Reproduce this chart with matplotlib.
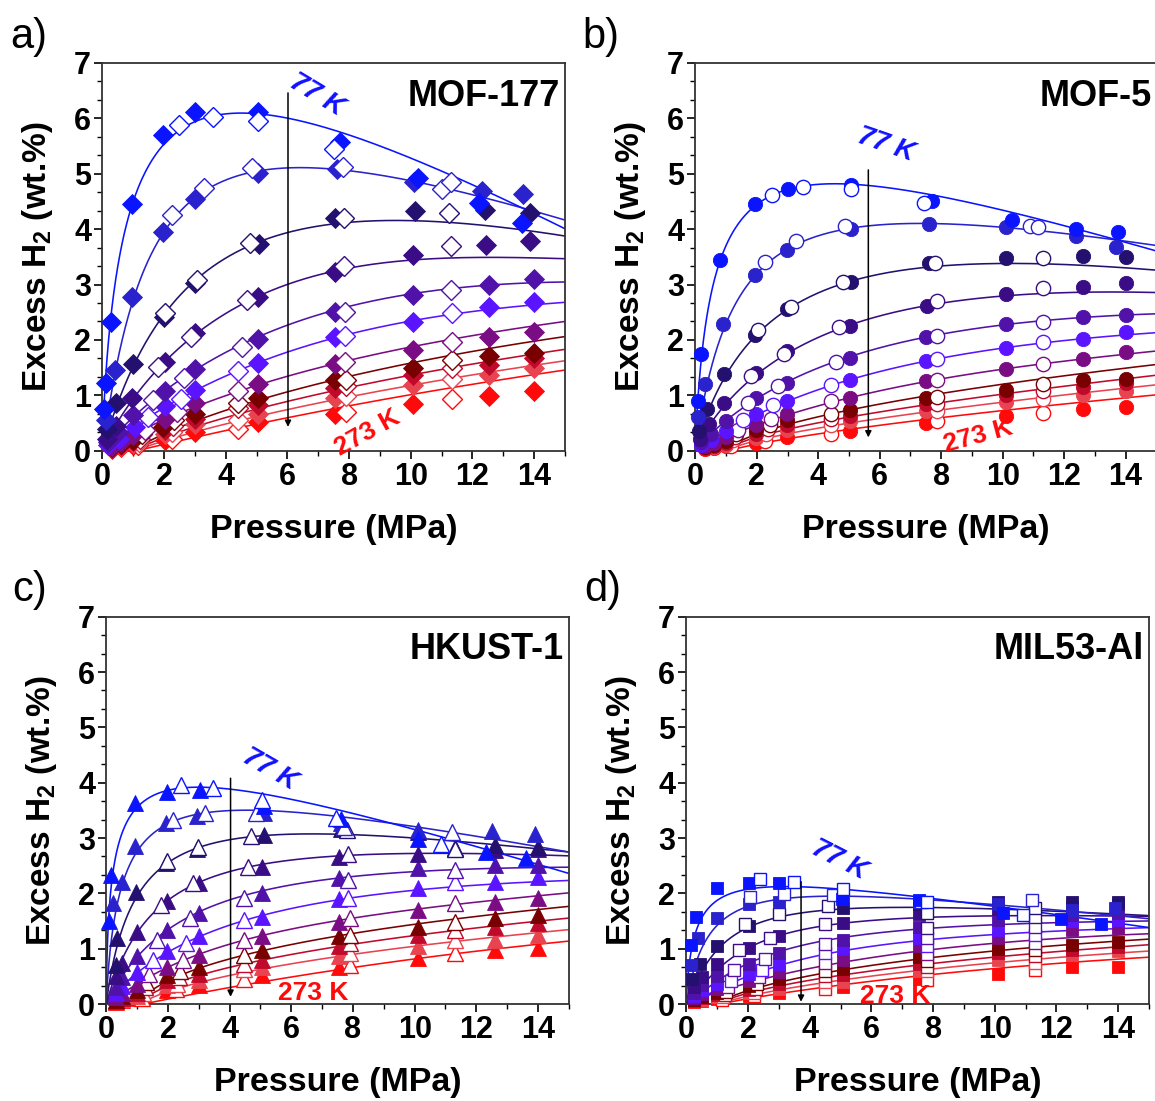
import numpy as np
import matplotlib
matplotlib.use("Agg")
import matplotlib.pyplot as plt
from matplotlib.ticker import MultipleLocator

plt.rcParams['font.family'] = ['Liberation Sans', 'DejaVu Sans']
plt.rcParams['font.weight'] = 'bold'
plt.rcParams['mathtext.fontset'] = 'custom'
plt.rcParams['mathtext.rm'] = 'Liberation Sans:bold'
plt.rcParams['mathtext.bf'] = 'Liberation Sans:bold'
plt.rcParams['mathtext.default'] = 'rm'

nan = np.nan

# isotherm colours, 77 K (index 0) to 273 K (index 10)
COLORS = ['#0a14ff', '#2a22cc', '#24106e', '#3a0c86', '#5012a8', '#5a14ff',
          '#7a0c84', '#780000', '#c00a2c', '#e84450', '#ff0a0a']

# pressures at which the fitted curves are tabulated (MPa)
FIT_P = [0.25, 0.5, 1, 2, 3, 5, 7.5, 10, 12.5, 15]

# ---------------- MOF-177 ----------------
A_FIT = [
    [2.3, 3.3, 4.4, 5.62, 5.98, 6.1, 5.78, 5.2, 4.65, 4.07],
    [nan, 1.6, 2.77, 3.95, 4.55, 5.02, 5.1, 4.9, 4.55, 4.15],
    [nan, 0.85, 1.55, 2.45, 3.05, 3.75, 4.12, 4.15, 4.05, 3.88],
    [nan, 0.5, 0.95, 1.6, 2.1, 2.75, 3.25, 3.45, 3.48, 3.47],
    [nan, nan, 0.62, 1.07, 1.45, 2.03, 2.55, 2.83, 2.98, 3.05],
    [nan, nan, 0.42, 0.78, 1.08, 1.57, 2.05, 2.33, 2.55, 2.68],
    [nan, nan, nan, 0.55, 0.8, 1.18, 1.55, 1.88, 2.13, 2.33],
    [nan, nan, nan, 0.3, 0.55, 0.88, 1.27, 1.6, 1.85, 2.05],
    [nan, nan, nan, 0.24, 0.45, 0.72, 1.08, 1.38, 1.62, 1.82],
    [nan, nan, nan, 0.18, 0.35, 0.6, 0.92, 1.18, 1.42, 1.62],
    [nan, nan, nan, 0.12, 0.25, 0.46, 0.76, 1.02, 1.25, 1.45],
]
A_ONSET = [0, 0, 0, 0, 0, 0, 0, 1.05, 1.08, 1.1, 1.12]
A_ADS_P = [
    [0.05, 0.12, 0.27, 0.95, 1.98, 3.0, 5.05, 7.7, 10.25, 12.2, 13.6],
    [0.12, 0.4, 0.97, 1.98, 3.0, 5.05, 7.6, 10.1, 12.3, 13.65],
    [0.15, 0.46, 1.0, 2.0, 3.0, 5.08, 7.55, 10.14, 12.4, 13.86],
    [0.15, 0.46, 0.97, 2.03, 3.0, 5.05, 7.55, 10.08, 12.43, 13.88],
    [0.2, 0.5, 1.0, 2.03, 3.0, 5.05, 7.55, 10.08, 12.53, 13.98],
    [0.2, 0.55, 1.06, 2.03, 3.0, 5.05, 7.55, 10.08, 12.55, 14.0],
    [0.3, 0.6, 1.0, 2.03, 3.0, 5.05, 7.55, 10.08, 12.55, 14.0],
    [0.3, 0.6, 1.0, 1.98, 3.0, 5.05, 7.55, 10.08, 12.55, 14.0],
    [0.3, 0.6, 1.0, 2.03, 3.0, 5.05, 7.55, 10.08, 12.55, 14.0],
    [0.3, 0.6, 1.0, 2.03, 3.0, 5.05, 7.55, 10.08, 12.55, 14.0],
    [0.3, 0.6, 1.0, 2.03, 3.0, 5.05, 7.55, 10.08, 12.55, 14.0],
]
A_ADS_N = [
    [0.75, 1.22, 2.33, 4.45, 5.7, 6.12, 6.12, 5.58, 4.92, 4.47, 4.12],
    [0.55, 1.46, 2.77, 3.94, 4.55, 5.02, 5.08, 4.86, 4.68, 4.64],
    [0.4, 0.87, 1.56, 2.42, 3.03, 3.73, 4.2, 4.32, 4.34, 4.29],
    [0.22, 0.45, 0.96, 1.6, 2.12, 2.77, 3.23, 3.54, 3.72, 3.78],
    [0.15, 0.33, 0.64, 1.08, 1.47, 2.02, 2.51, 2.81, 2.99, 3.1],
    [0.1, 0.22, 0.43, 0.8, 1.1, 1.58, 2.06, 2.33, 2.6, 2.69],
    [0.08, 0.15, 0.28, 0.58, 0.87, 1.2, 1.57, 1.82, 2.05, 2.15],
    [0.06, 0.12, 0.2, 0.43, 0.67, 0.96, 1.27, 1.49, 1.71, 1.77],
    [0.05, 0.1, 0.17, 0.37, 0.58, 0.83, 1.13, 1.37, 1.55, 1.67],
    [0.04, 0.08, 0.14, 0.3, 0.49, 0.67, 0.96, 1.19, 1.37, 1.49],
    [0.03, 0.06, 0.1, 0.2, 0.34, 0.51, 0.67, 0.84, 0.99, 1.07],
]
A_DES_P = [
    [2.5, 3.6, 5.05, 7.5],
    [2.27, 3.3, 4.85, 7.8, 11.0, 11.3],
    [2.03, 3.06, 4.79, 7.85, 11.25],
    [1.82, 2.88, 4.68, 7.83, 11.29],
    [1.65, 2.66, 4.52, 7.86, 11.29],
    [1.49, 2.55, 4.41, 7.86, 11.35],
    [1.38, 2.41, 4.41, 7.86, 11.33],
    [1.28, 2.34, 4.41, 7.9, 11.33],
    [1.22, 2.3, 4.41, 7.9, 11.33],
    [1.2, 2.25, 4.41, 7.9, 11.33],
    [1.17, 2.25, 4.41, 7.9, 11.35],
]
A_DES_N = [
    [5.88, 6.03, 5.95, 5.45],
    [4.26, 4.75, 5.1, 5.12, 4.72, 4.85],
    [2.48, 3.08, 3.75, 4.2, 4.3],
    [1.52, 2.06, 2.72, 3.34, 3.69],
    [0.92, 1.31, 1.88, 2.51, 2.9],
    [0.61, 0.93, 1.43, 2.07, 2.48],
    [0.37, 0.7, 1.07, 1.61, 1.97],
    [0.31, 0.55, 0.86, 1.27, 1.63],
    [0.22, 0.45, 0.77, 1.16, 1.49],
    [0.16, 0.34, 0.55, 0.99, 1.29],
    [0.1, 0.22, 0.4, 0.7, 0.93],
]

# ---------------- MOF-5 ----------------
B_FIT = [
    [1.9, 2.85, 3.68, 4.42, 4.72, 4.83, 4.68, 4.3, 3.98, 3.62],
    [0.9, 1.4, 2.3, 3.2, 3.65, 4.02, 4.1, 4.02, 3.88, 3.72],
    [nan, 0.8, 1.4, 2.07, 2.55, 3.05, 3.33, 3.38, 3.33, 3.27],
    [nan, 0.48, 0.85, 1.38, 1.77, 2.25, 2.62, 2.8, 2.85, 2.86],
    [nan, nan, 0.54, 0.95, 1.25, 1.68, 2.05, 2.28, 2.4, 2.47],
    [nan, nan, 0.35, 0.65, 0.9, 1.27, 1.62, 1.85, 2.02, 2.13],
    [nan, nan, nan, 0.46, 0.65, 0.95, 1.25, 1.47, 1.65, 1.8],
    [nan, nan, nan, 0.3, 0.48, 0.73, 0.98, 1.2, 1.4, 1.55],
    [nan, nan, nan, 0.24, 0.4, 0.6, 0.82, 1.03, 1.2, 1.36],
    [nan, nan, nan, 0.18, 0.32, 0.48, 0.7, 0.88, 1.05, 1.18],
    [nan, nan, nan, 0.12, 0.23, 0.37, 0.55, 0.74, 0.88, 1.0],
]
B_ONSET = [0, 0, 0, 0, 0, 0, 0, 1.05, 1.08, 1.1, 1.12]
B_ADS_P = [
    [0.09, 0.17, 0.79, 1.93, 3.0, 5.05, 7.7, 10.3, 12.4, 13.75],
    [0.1, 0.3, 0.9, 1.93, 2.98, 5.05, 7.6, 10.1, 12.4, 13.7],
    [0.12, 0.39, 0.95, 1.93, 2.98, 5.05, 7.6, 10.1, 12.6, 14.0],
    [0.15, 0.43, 0.95, 1.98, 2.98, 5.02, 7.55, 10.1, 12.6, 14.0],
    [0.2, 0.5, 1.0, 1.98, 2.98, 5.02, 7.5, 10.1, 12.6, 14.0],
    [0.2, 0.5, 1.0, 1.98, 2.98, 5.02, 7.5, 10.1, 12.6, 14.0],
    [0.3, 0.6, 1.0, 1.98, 2.98, 5.02, 7.5, 10.1, 12.6, 14.0],
    [0.3, 0.6, 1.0, 1.98, 2.98, 5.02, 7.5, 10.1, 12.6, 14.0],
    [0.3, 0.6, 1.0, 1.98, 2.98, 5.02, 7.5, 10.1, 12.6, 14.0],
    [0.3, 0.6, 1.0, 1.98, 2.98, 5.02, 7.5, 10.1, 12.6, 14.0],
    [0.3, 0.6, 1.0, 1.98, 2.98, 5.02, 7.5, 10.1, 12.6, 14.0],
]
B_ADS_N = [
    [0.9, 1.75, 3.45, 4.45, 4.73, 4.8, 4.5, 4.17, 4.0, 3.94],
    [0.6, 1.2, 2.29, 3.18, 3.63, 4.01, 4.1, 4.03, 3.88, 3.67],
    [0.35, 0.75, 1.39, 2.08, 2.56, 3.05, 3.38, 3.48, 3.52, 3.5],
    [0.22, 0.48, 0.87, 1.4, 1.8, 2.26, 2.62, 2.83, 2.95, 3.02],
    [0.15, 0.3, 0.54, 0.96, 1.23, 1.67, 2.05, 2.28, 2.42, 2.45],
    [0.1, 0.2, 0.36, 0.66, 0.9, 1.28, 1.62, 1.85, 2.02, 2.15],
    [0.08, 0.14, 0.24, 0.47, 0.66, 0.96, 1.25, 1.47, 1.65, 1.78],
    [0.06, 0.11, 0.18, 0.37, 0.55, 0.73, 0.95, 1.1, 1.27, 1.3],
    [0.05, 0.09, 0.14, 0.3, 0.47, 0.63, 0.85, 1.0, 1.15, 1.22],
    [0.04, 0.07, 0.11, 0.23, 0.37, 0.53, 0.72, 0.88, 1.0, 1.08],
    [0.03, 0.05, 0.08, 0.13, 0.24, 0.36, 0.5, 0.62, 0.75, 0.78],
]
B_DES_P = [
    [2.5, 3.5, 5.05, 7.45],
    [2.28, 3.29, 4.86, 10.9, 11.15],
    [2.04, 3.1, 4.8, 7.8, 11.3],
    [1.82, 2.9, 4.66, 7.85, 11.3],
    [1.71, 2.69, 4.59, 7.85, 11.3],
    [1.55, 2.53, 4.43, 7.85, 11.3],
    [1.39, 2.47, 4.43, 7.85, 11.3],
    [1.33, 2.42, 4.43, 7.85, 11.3],
    [1.28, 2.36, 4.43, 7.85, 11.3],
    [1.23, 2.31, 4.43, 7.85, 11.3],
    [1.17, 2.26, 4.43, 7.85, 11.3],
]
B_DES_N = [
    [4.62, 4.77, 4.73, 4.48],
    [3.4, 3.78, 4.05, 4.05, 4.03],
    [2.18, 2.6, 3.05, 3.38, 3.48],
    [1.34, 1.75, 2.24, 2.7, 2.93],
    [0.86, 1.17, 1.6, 2.07, 2.33],
    [0.55, 0.83, 1.19, 1.65, 1.97],
    [0.37, 0.57, 0.9, 1.28, 1.57],
    [0.3, 0.47, 0.66, 0.97, 1.2],
    [0.25, 0.39, 0.57, 0.85, 1.07],
    [0.19, 0.3, 0.47, 0.72, 0.93],
    [0.09, 0.17, 0.3, 0.53, 0.68],
]

# ---------------- HKUST-1 ----------------
C_FIT = [
    [2.5, 3.1, 3.52, 3.85, 3.92, 3.85, 3.52, 3.12, 2.75, 2.38],
    [1.5, 2.1, 2.78, 3.27, 3.42, 3.5, 3.42, 3.18, 2.95, 2.78],
    [nan, 1.3, 2.0, 2.55, 2.8, 3.02, 3.08, 3.03, 2.9, 2.72],
    [nan, 0.78, 1.3, 1.88, 2.2, 2.5, 2.68, 2.73, 2.72, 2.67],
    [nan, nan, 0.85, 1.35, 1.67, 2.02, 2.28, 2.4, 2.45, 2.47],
    [nan, nan, 0.55, 0.95, 1.22, 1.58, 1.88, 2.06, 2.17, 2.23],
    [nan, nan, 0.35, 0.68, 0.9, 1.22, 1.5, 1.72, 1.88, 2.0],
    [nan, nan, nan, 0.42, 0.65, 0.95, 1.22, 1.45, 1.62, 1.76],
    [nan, nan, nan, 0.32, 0.52, 0.78, 1.03, 1.25, 1.42, 1.54],
    [nan, nan, nan, 0.22, 0.4, 0.62, 0.85, 1.05, 1.21, 1.34],
    [nan, nan, nan, 0.1, 0.2, 0.37, 0.62, 0.83, 0.99, 1.13],
]
C_ONSET = [0, 0, 0, 0, 0, 0, 0, 1.1, 1.12, 1.15, 1.2]
C_ADS_P = [
    [0.1, 0.16, 0.92, 1.98, 3.03, 5.1, 7.6, 10.1, 12.3, 13.6],
    [0.22, 0.5, 0.92, 1.95, 2.95, 5.1, 7.6, 10.1, 12.5, 13.9],
    [0.3, 0.36, 0.97, 1.95, 2.95, 5.1, 7.6, 10.1, 12.6, 14.0],
    [0.3, 0.5, 1.0, 1.98, 3.0, 5.05, 7.55, 10.1, 12.6, 14.0],
    [0.3, 0.5, 1.0, 1.98, 3.0, 5.05, 7.55, 10.1, 12.6, 14.0],
    [0.3, 0.5, 1.0, 1.98, 3.0, 5.05, 7.55, 10.1, 12.6, 14.0],
    [0.3, 0.5, 1.0, 1.98, 3.0, 5.05, 7.55, 10.1, 12.6, 14.0],
    [0.3, 0.5, 1.0, 1.98, 3.0, 5.05, 7.55, 10.1, 12.6, 14.0],
    [0.3, 0.5, 1.0, 1.98, 3.0, 5.05, 7.55, 10.1, 12.6, 14.0],
    [0.3, 0.5, 1.0, 1.98, 3.0, 5.05, 7.55, 10.1, 12.6, 14.0],
    [0.3, 0.5, 1.0, 1.98, 3.0, 5.05, 7.55, 10.1, 12.6, 14.0],
]
C_ADS_N = [
    [1.5, 2.33, 3.64, 3.84, 3.86, 3.57, 3.35, 2.99, 2.75, 2.63],
    [1.82, 2.2, 2.86, 3.28, 3.4, 3.45, 3.28, 3.14, 3.12, 3.08],
    [0.7, 1.19, 2.03, 2.55, 2.8, 3.05, 3.17, 3.1, 2.88, 2.84],
    [0.5, 0.75, 1.31, 1.87, 2.18, 2.48, 2.66, 2.72, 2.78, 2.8],
    [0.3, 0.48, 0.86, 1.34, 1.64, 2.0, 2.27, 2.45, 2.51, 2.51],
    [0.2, 0.32, 0.58, 0.95, 1.22, 1.58, 1.89, 2.09, 2.21, 2.3],
    [0.12, 0.2, 0.37, 0.67, 0.89, 1.22, 1.49, 1.7, 1.85, 1.91],
    [0.08, 0.14, 0.25, 0.52, 0.67, 0.98, 1.22, 1.4, 1.55, 1.61],
    [0.06, 0.11, 0.2, 0.43, 0.55, 0.8, 1.04, 1.25, 1.4, 1.46],
    [0.05, 0.09, 0.15, 0.34, 0.43, 0.67, 0.86, 1.04, 1.16, 1.25],
    [0.04, 0.07, 0.1, 0.25, 0.34, 0.52, 0.67, 0.83, 0.98, 1.01],
]
C_DES_P = [
    [2.43, 3.46, 5.04, 7.45, 10.85],
    [2.16, 3.19, 4.85, 7.7, 11.2],
    [1.97, 2.99, 4.7, 7.8, 11.3],
    [1.76, 2.81, 4.6, 7.85, 11.3],
    [1.65, 2.7, 4.45, 7.85, 11.3],
    [1.5, 2.6, 4.45, 7.85, 11.3],
    [1.4, 2.5, 4.45, 7.9, 11.3],
    [1.3, 2.4, 4.45, 7.9, 11.3],
    [1.25, 2.35, 4.45, 7.9, 11.3],
    [1.2, 2.3, 4.45, 7.9, 11.3],
    [1.15, 2.25, 4.45, 7.9, 11.3],
]
C_DES_N = [
    [3.96, 3.9, 3.69, 3.37, 2.9],
    [3.33, 3.45, 3.45, 3.2, 3.11],
    [2.58, 2.84, 3.03, 3.15, 2.81],
    [1.79, 2.18, 2.48, 2.72, 2.82],
    [1.15, 1.55, 1.91, 2.24, 2.42],
    [0.8, 1.1, 1.52, 1.91, 2.21],
    [0.55, 0.8, 1.16, 1.55, 1.82],
    [0.4, 0.6, 0.89, 1.25, 1.49],
    [0.3, 0.48, 0.73, 1.1, 1.34],
    [0.2, 0.37, 0.63, 0.92, 1.16],
    [0.1, 0.27, 0.46, 0.7, 0.92],
]

# ---------------- MIL53-Al ----------------
D_FIT = [
    [1.2, 1.55, 1.87, 2.08, 2.13, 2.07, 1.93, 1.77, 1.58, 1.38],
    [0.65, 1.0, 1.4, 1.78, 1.9, 1.95, 1.9, 1.78, 1.67, 1.55],
    [nan, 0.6, 0.95, 1.4, 1.58, 1.7, 1.75, 1.72, 1.66, 1.6],
    [nan, nan, 0.62, 1.0, 1.25, 1.45, 1.55, 1.6, 1.6, 1.58],
    [nan, nan, 0.42, 0.72, 0.95, 1.2, 1.35, 1.43, 1.48, 1.5],
    [nan, nan, nan, 0.5, 0.7, 0.95, 1.14, 1.26, 1.33, 1.38],
    [nan, nan, nan, 0.38, 0.52, 0.75, 0.95, 1.1, 1.2, 1.27],
    [nan, nan, nan, 0.25, 0.4, 0.6, 0.8, 0.97, 1.08, 1.17],
    [nan, nan, nan, 0.2, 0.33, 0.5, 0.7, 0.86, 0.98, 1.06],
    [nan, nan, nan, 0.14, 0.26, 0.42, 0.6, 0.75, 0.87, 0.95],
    [nan, nan, nan, 0.09, 0.2, 0.33, 0.5, 0.65, 0.76, 0.84],
]
D_ONSET = [0, 0, 0, 0, 0, 0, 0, 1.05, 1.08, 1.1, 1.12]
D_ADS_P = [
    [0.14, 0.33, 1.01, 2.02, 3.02, 5.05, 7.55, 10.27, 12.16, 13.45],
    [0.15, 0.38, 1.01, 2.02, 3.02, 5.07, 7.55, 10.1, 12.5, 13.9],
    [0.2, 0.44, 1.01, 2.02, 3.02, 5.07, 7.55, 10.1, 12.5, 14.0],
    [0.25, 0.5, 1.01, 2.02, 3.02, 5.07, 7.55, 10.1, 12.5, 14.0],
    [0.25, 0.5, 1.01, 2.02, 3.02, 5.07, 7.55, 10.1, 12.5, 14.0],
    [0.25, 0.5, 1.01, 2.02, 3.02, 5.07, 7.55, 10.1, 12.5, 14.0],
    [0.25, 0.5, 1.01, 2.02, 3.02, 5.07, 7.55, 10.1, 12.5, 14.0],
    [0.25, 0.5, 1.01, 2.02, 3.02, 5.07, 7.55, 10.1, 12.5, 14.0],
    [0.25, 0.5, 1.01, 2.02, 3.02, 5.07, 7.55, 10.1, 12.5, 14.0],
    [0.25, 0.5, 1.01, 2.02, 3.02, 5.07, 7.55, 10.1, 12.5, 14.0],
    [0.25, 0.5, 1.01, 2.02, 3.02, 5.07, 7.55, 10.1, 12.5, 14.0],
]
D_ADS_N = [
    [1.07, 1.58, 2.1, 2.19, 2.19, 1.9, 1.88, 1.65, 1.53, 1.44],
    [0.7, 1.19, 1.55, 1.81, 1.85, 1.89, 1.85, 1.8, 1.7, 1.73],
    [0.45, 0.73, 1.05, 1.41, 1.63, 1.73, 1.8, 1.85, 1.85, 1.85],
    [0.3, 0.48, 0.72, 1.02, 1.22, 1.46, 1.62, 1.72, 1.75, 1.8],
    [0.2, 0.35, 0.5, 0.72, 0.92, 1.16, 1.4, 1.52, 1.61, 1.65],
    [0.14, 0.25, 0.36, 0.55, 0.72, 1.0, 1.2, 1.34, 1.5, 1.52],
    [0.1, 0.18, 0.28, 0.42, 0.58, 0.79, 1.04, 1.19, 1.34, 1.37],
    [0.07, 0.13, 0.2, 0.32, 0.45, 0.64, 0.85, 1.0, 1.07, 1.12],
    [0.06, 0.1, 0.16, 0.26, 0.36, 0.52, 0.72, 0.92, 0.97, 1.03],
    [0.05, 0.08, 0.12, 0.2, 0.28, 0.4, 0.6, 0.79, 0.89, 0.95],
    [0.04, 0.06, 0.09, 0.14, 0.2, 0.3, 0.45, 0.55, 0.67, 0.67],
]
D_DES_P = [
    [2.4, 3.49, 5.07, 7.8, 10.9],
    [2.07, 3.16, 4.76, 7.6, 11.2],
    [1.9, 3.0, 4.6, 7.8, 11.3],
    [1.7, 2.7, 4.5, 7.8, 11.3],
    [1.55, 2.55, 4.5, 7.8, 11.3],
    [1.45, 2.45, 4.5, 7.8, 11.3],
    [1.35, 2.35, 4.5, 7.8, 11.3],
    [1.3, 2.3, 4.5, 7.8, 11.3],
    [1.25, 2.25, 4.5, 7.8, 11.3],
    [1.2, 2.2, 4.5, 7.8, 11.3],
    [1.15, 2.2, 4.5, 7.8, 11.3],
]
D_DES_N = [
    [2.26, 2.21, 2.07, 1.85, 1.6],
    [1.94, 1.99, 1.97, 1.85, 1.88],
    [1.45, 1.62, 1.78, 1.64, 1.73],
    [0.98, 1.2, 1.44, 1.37, 1.57],
    [0.62, 0.82, 1.08, 1.19, 1.4],
    [0.42, 0.62, 0.92, 1.04, 1.25],
    [0.3, 0.48, 0.75, 0.9, 1.1],
    [0.22, 0.37, 0.6, 0.77, 0.98],
    [0.16, 0.28, 0.5, 0.67, 0.86],
    [0.12, 0.2, 0.4, 0.59, 0.75],
    [0.08, 0.15, 0.28, 0.43, 0.61],
]

PANELS = [
    dict(letter='a)', name='MOF-177', fit=A_FIT, onset=A_ONSET,
         ads_p=A_ADS_P, ads_n=A_ADS_N, des_p=A_DES_P, des_n=A_DES_N,
         marker='D', ms=9.8,
         rect=(102.3, 450.7, 565.0, 63.0),
         arrow=(6.02, 6.46, 0.43), t77=(6.95, 6.42, -31), t273=(8.6, 0.33, 29)),
    dict(letter='b)', name='MOF-5', fit=B_FIT, onset=B_ONSET,
         ads_p=B_ADS_P, ads_n=B_ADS_N, des_p=B_DES_P, des_n=B_DES_N,
         marker='o', ms=10.3,
         rect=(695.3, 450.7, 1156.3, 63.0),
         arrow=(5.63, 5.07, 0.24), t77=(6.2, 5.52, -19), t273=(9.2, 0.27, 15)),
    dict(letter='c)', name='HKUST-1', fit=C_FIT, onset=C_ONSET,
         ads_p=C_ADS_P, ads_n=C_ADS_N, des_p=C_DES_P, des_n=C_DES_N,
         marker='^', ms=11.5,
         rect=(106.3, 1004.0, 568.8, 616.7),
         arrow=(4.03, 4.08, 0.13), t77=(5.3, 4.23, -30), t273=(6.7, 0.19, 0)),
    dict(letter='d)', name='MIL53-Al', fit=D_FIT, onset=D_ONSET,
         ads_p=D_ADS_P, ads_n=D_ADS_N, des_p=D_DES_P, des_n=D_DES_N,
         marker='s', ms=9.3,
         rect=(686.3, 1004.0, 1149.0, 616.7),
         arrow=(3.72, 2.21, 0.04), t77=(4.97, 2.6, -27), t273=(6.76, 0.14, 0)),
]

W, H = 1155, 1101


def fit_isotherm(p, n, p0):
    """Least-squares fit of n = A x^t/(b^t + x^t) - c x, x = P - p0."""
    p = np.asarray(p, float)
    n = np.asarray(n, float)
    m = np.isfinite(n) & (p > p0)
    x, y = p[m] - p0, n[m]
    bs = np.geomspace(0.02, 80, 600)[:, None]
    best = (np.inf, None)
    for t in np.linspace(0.6, 1.8, 25):
        f = x ** t / (bs ** t + x ** t)
        s11 = (f * f).sum(1)
        s12 = -(f * x).sum(1)
        s22 = (x * x).sum()
        r1 = (f * y).sum(1)
        r2 = -(x * y).sum()
        det = s11 * s22 - s12 ** 2
        A = (r1 * s22 - s12 * r2) / det
        c = (s11 * r2 - s12 * r1) / det
        pred = A[:, None] * f - c[:, None] * x
        err = ((pred - y) ** 2).sum(1)
        k = np.argmin(err)
        if err[k] < best[0]:
            best = (err[k], (A[k], bs[k, 0], t, c[k]))
    return best[1]


def model(P, p0, A, b, t, c):
    x = P - p0
    return A * x ** t / (b ** t + x ** t) - c * x


fig = plt.figure(figsize=(W / 100, H / 100), dpi=100)
P_GRID = np.concatenate([np.linspace(0, 1, 250), np.linspace(1, 15.5, 400)[1:]])

for pan in PANELS:
    l, b_, r, t_ = pan['rect']
    ax = fig.add_axes([l / W, 1 - b_ / H, (r - l) / W, (b_ - t_) / H])
    ax.set_xlim(0, 15)
    ax.set_ylim(0, 7)

    # fitted curves
    for i in range(10, -1, -1):
        p0 = pan['onset'][i]
        pars = fit_isotherm(FIT_P, pan['fit'][i], p0)
        P = P_GRID[P_GRID >= p0]
        ax.plot(P, model(P, p0, *pars), color=COLORS[i], lw=1.15, zorder=2)

    # measured points: filled = adsorption, open = desorption
    for i in range(10, -1, -1):
        col = COLORS[i]
        ax.plot(pan['ads_p'][i], pan['ads_n'][i], ls='none', marker=pan['marker'],
                ms=pan['ms'], mfc=col, mec=col, mew=0.6, zorder=3, clip_on=False)
        ax.plot(pan['des_p'][i], pan['des_n'][i], ls='none', marker=pan['marker'],
                ms=pan['ms'], mfc='white', mec=col, mew=1.0, zorder=3, clip_on=False)

    # temperature arrow
    ax_x, ay0, ay1 = pan['arrow']
    ax.annotate('', xy=(ax_x, ay1), xytext=(ax_x, ay0),
                arrowprops=dict(arrowstyle='-|>', color='black', lw=1.1,
                                mutation_scale=9, shrinkA=0, shrinkB=0), zorder=4)
    tx, ty, rot = pan['t77']
    ax.text(tx, ty, '77 K', color='#1010ff', fontsize=20, fontweight='bold',
            fontstyle='italic', rotation=rot, ha='center', va='center',
            rotation_mode='anchor', zorder=5)
    tx, ty, rot = pan['t273']
    ax.text(tx, ty, '273 K', color='#ff0a0a', fontsize=19, fontweight='bold',
            rotation=rot, ha='center', va='center', rotation_mode='anchor', zorder=5)

    ax.text(14.85, 6.4, pan['name'], fontsize=26, fontweight='bold',
            ha='right', va='center', zorder=5)

    ax.xaxis.set_major_locator(MultipleLocator(2))
    ax.xaxis.set_minor_locator(MultipleLocator(1))
    ax.yaxis.set_major_locator(MultipleLocator(1))
    ax.yaxis.set_minor_locator(MultipleLocator(1 / 3))
    ax.tick_params(which='major', direction='out', length=6, width=1.2,
                   labelsize=22, pad=2, top=False, right=False)
    ax.tick_params(which='minor', direction='out', length=3.5, width=1.0,
                   top=False, right=False)
    for s in ax.spines.values():
        s.set_linewidth(1.3)
        s.set_color('#333333')
    ax.set_xlabel('Pressure (MPa)', fontsize=24.5, fontweight='bold', labelpad=16)
    ax.set_ylabel('Excess H$_{2}$ (wt.%)', fontsize=24, fontweight='bold', labelpad=14)

# panel letters
fig.text(10 / W, 1 - 37 / H, 'a)', fontsize=30, fontweight='normal', va='center')
fig.text(582 / W, 1 - 37 / H, 'b)', fontsize=30, fontweight='normal', va='center')
fig.text(12 / W, 1 - 590 / H, 'c)', fontsize=30, fontweight='normal', va='center')
fig.text(584 / W, 1 - 590 / H, 'd)', fontsize=30, fontweight='normal', va='center')

fig.savefig('out.png', dpi=100, facecolor='white')
